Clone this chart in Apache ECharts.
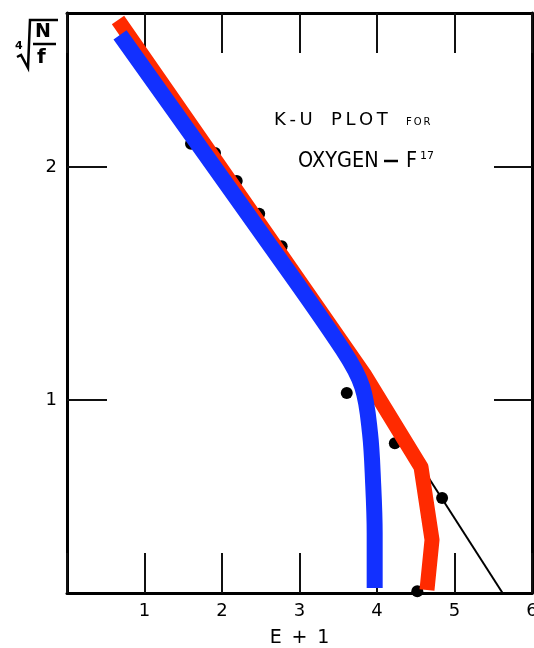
<!DOCTYPE html>
<html>
<head>
<meta charset="utf-8">
<script src="https://cdn.jsdelivr.net/npm/echarts@6/dist/echarts.min.js"></script>
<style>
  html, body { margin: 0; padding: 0; background: #fff; }
  #main { width: 534px; height: 648px; }
</style>
</head>
<body>
<div id="main"></div>
<script>
// ---- data ----
var dotX = [1.60, 1.91, 2.19, 2.48, 2.77, 3.61, 4.23, 4.84, 4.52];
var dotY = [2.10, 2.06, 1.94, 1.80, 1.66, 1.03, 0.815, 0.58, 0.18];

var redX = [0.658, 3.832, 4.568, 4.71, 4.645];
var redY = [2.631, 1.112, 0.712, 0.40, 0.185];

var blueX = [0.684, 2.477, 3.56, 3.81, 3.91, 3.95, 3.97, 3.97];
var blueY = [2.567, 1.73, 1.215, 1.056, 0.858, 0.644, 0.43, 0.193];

var tailX = [4.62, 5.62];
var tailY = [0.69, 0.172];

var xTicks = [1, 2, 3, 4, 5, 6];
var yTicks = [1, 2];

function pairs(xs, ys) {
    return xs.map(function (x, i) { return [x, ys[i]]; });
}

var chart = echarts.init(document.getElementById('main'), null, { renderer: 'canvas' });
var font = 'DejaVu Sans';

var axisLine = { show: true, lineStyle: { color: '#000', width: 3 } };
var tick = { show: true, inside: true, length: 40, lineStyle: { color: '#111', width: 2 } };

var option = {
    backgroundColor: '#fff',
    animation: false,
    grid: [
        { left: 67, right: 2, top: 13, bottom: 55, show: false, containLabel: false, outerBoundsMode: 'none' },
        // thin strip on the right edge, only carries the right-hand axis
        { left: 532, right: 0, top: 13, bottom: 55, show: false, containLabel: false, outerBoundsMode: 'none' }
    ],
    xAxis: [{
        type: 'value', min: 0, max: 6, interval: 1, position: 'bottom',
        axisLine: axisLine,
        axisTick: tick,
        splitLine: { show: false },
        axisLabel: {
            color: '#000', fontSize: 18, fontFamily: font, margin: 9,
            formatter: function (v) { return xTicks.indexOf(v) >= 0 ? String(v) : ''; }
        },
        name: 'E\u2009 + \u20091', nameLocation: 'middle', nameGap: 36,
        nameTextStyle: { color: '#000', fontSize: 19, fontFamily: font }
    }, {
        type: 'value', min: 0, max: 6, interval: 1, position: 'top',
        axisLine: axisLine,
        axisTick: tick,
        splitLine: { show: false },
        axisLabel: { show: false }
    }, {
        type: 'value', gridIndex: 1, min: 0, max: 1, show: false
    }],
    yAxis: [{
        type: 'value', min: 0.172, max: 2.661, position: 'left',
        axisLine: axisLine,
        axisTick: { show: true, inside: true, length: 40, customValues: yTicks, lineStyle: { color: '#111', width: 2 } },
        splitLine: { show: false },
        axisLabel: { customValues: yTicks, color: '#000', fontSize: 18, fontFamily: font, margin: 10 }
    }, {
        type: 'value', gridIndex: 1, min: 0.172, max: 2.661, position: 'left',
        axisLine: axisLine,
        axisTick: { show: true, inside: false, length: 38, customValues: yTicks, lineStyle: { color: '#111', width: 2 } },
        splitLine: { show: false },
        axisLabel: { show: false }
    }],
    graphic: [
        // radical sign for the y axis title
        { type: 'polyline', shape: { points: [[17, 57], [21, 55], [28, 68], [30, 20], [58, 20]] },
          style: { stroke: '#000', lineWidth: 2.5, fill: null } },
        { type: 'text', x: 15, y: 41, style: { text: '4', fontSize: 11, fontWeight: 'bold', fontFamily: font, fill: '#000' } },
        { type: 'text', x: 35, y: 23, style: { text: 'N', fontSize: 19, fontWeight: 'bold', fontFamily: font, fill: '#000' } },
        { type: 'line', shape: { x1: 33, y1: 44, x2: 56, y2: 44 }, style: { stroke: '#000', lineWidth: 2.5 } },
        { type: 'text', x: 37, y: 48, style: { text: 'f', fontSize: 20, fontWeight: 'bold', fontFamily: font, fill: '#000' } },
        // title
        { type: 'text', x: 274, y: 111, style: { text: 'K\u2009-\u2009U', fontSize: 18, fontFamily: font, fill: '#000' } },
        { type: 'text', x: 331, y: 111, style: { text: 'P\u2009L\u2009O\u2009T', fontSize: 18, fontFamily: font, fill: '#000' } },
        { type: 'text', x: 406, y: 117, style: { text: 'F\u2009O\u2009R', fontSize: 10, fontFamily: font, fill: '#000' } },
        { type: 'text', x: 298, y: 151, scaleX: 0.92, style: { text: 'OXYGEN', fontSize: 21, fontFamily: font, fill: '#000' } },
        { type: 'line', shape: { x1: 384, y1: 161, x2: 398, y2: 161 }, style: { stroke: '#000', lineWidth: 2.5 } },
        { type: 'text', x: 406, y: 151, scaleX: 0.92, style: { text: 'F', fontSize: 21, fontFamily: font, fill: '#000' } },
        { type: 'text', x: 420, y: 151, style: { text: '17', fontSize: 11, fontFamily: font, fill: '#000' } }
    ],
    series: [{
        type: 'scatter',
        data: pairs(dotX, dotY),
        symbolSize: 12,
        itemStyle: { color: '#000', opacity: 1 },
        z: 1
    }, {
        type: 'line',
        data: pairs(tailX, tailY),
        showSymbol: false,
        lineStyle: { color: '#000', width: 2 },
        z: 1
    }, {
        type: 'line',
        data: pairs(redX, redY),
        showSymbol: false,
        lineStyle: { color: '#ff2a00', width: 15, cap: 'butt', join: 'round' },
        z: 2
    }, {
        type: 'line',
        data: pairs(blueX, blueY),
        showSymbol: false,
        smooth: 0.35,
        lineStyle: { color: '#1230ff', width: 16, cap: 'butt', join: 'round' },
        z: 3
    }]
};
chart.setOption(option);
</script>
</body>
</html>
